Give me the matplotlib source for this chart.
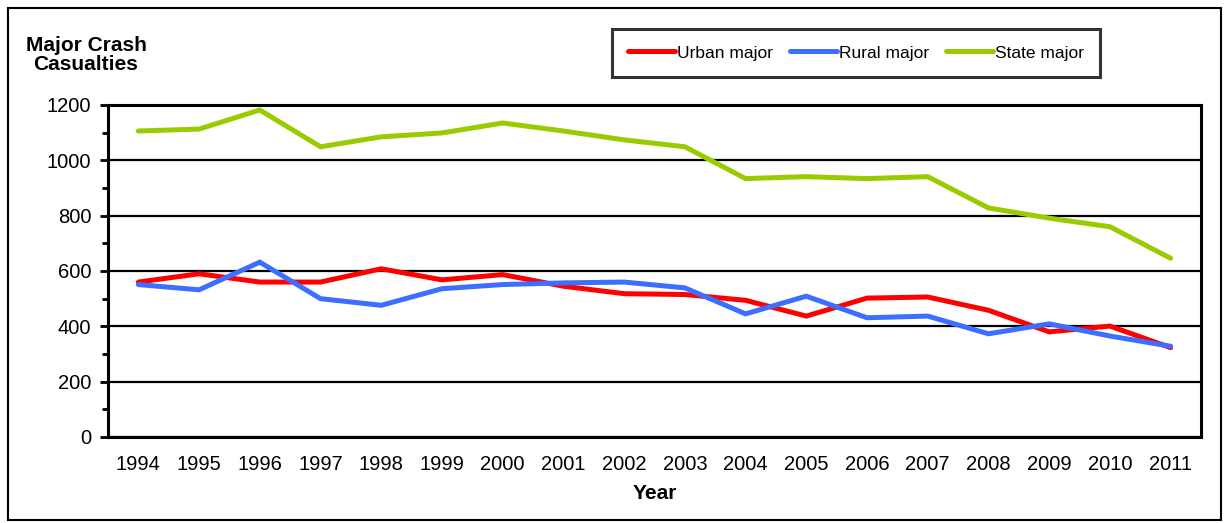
import matplotlib.pyplot as plt
from matplotlib.patches import Rectangle
from matplotlib.ticker import MultipleLocator

# --- data -------------------------------------------------------------------
years = [str(y) for y in range(1994, 2012)]
urban_major = [560, 590, 560, 560, 608, 568, 587, 545, 518, 515,
               494, 437, 502, 506, 458, 380, 401, 323]
rural_major = [551, 532, 632, 500, 476, 536, 551, 557, 560, 539,
               445, 509, 431, 437, 373, 409, 365, 328]
state_major = [1106, 1113, 1182, 1049, 1085, 1099, 1135, 1106, 1074, 1049,
               934, 941, 934, 941, 828, 791, 760, 646]

series = [
    ("Urban major", urban_major, "#FF0000"),
    ("Rural major", rural_major, "#3C6EFF"),
    ("State major", state_major, "#99CC00"),
]

plt.rcParams["font.family"] = ["Liberation Sans", "DejaVu Sans"]

fig = plt.figure(figsize=(12.24, 5.23), dpi=100)
ax = fig.add_axes([108 / 1224, 1 - 437 / 523, (1201 - 108) / 1224, (437 - 105) / 523])

x = list(range(len(years)))
for label, vals, color in series:
    ax.plot(x, vals, color=color, linewidth=3.6, label=label,
            solid_capstyle="round", solid_joinstyle="miter", zorder=3)

ax.set_xlim(-0.5, len(years) - 0.5)
ax.set_ylim(0, 1200)
ax.set_xticks(x)
ax.set_xticklabels(years)
ax.yaxis.set_major_locator(MultipleLocator(200))
ax.yaxis.set_minor_locator(MultipleLocator(100))
ax.grid(axis="y", which="major", color="black", linewidth=1.6, zorder=1)
ax.set_axisbelow(True)

for side in ax.spines.values():
    side.set_linewidth(2.2)
    side.set_color("black")

ax.tick_params(axis="x", length=0, pad=13, labelsize=14.5)
ax.tick_params(axis="y", which="major", direction="out", length=6, width=2,
               pad=6, labelsize=14.5)
ax.tick_params(axis="y", which="minor", direction="out", length=4, width=2)

ax.set_xlabel("Year", fontsize=15, fontweight="bold", labelpad=7)
fig.text(86 / 1224, 1 - 55 / 523, "Major Crash\nCasualties", ha="center",
         va="center", fontsize=15, fontweight="bold", linespacing=1.05)

leg = fig.legend(loc="center", bbox_to_anchor=(856 / 1224, 1 - 53 / 523),
                 ncol=3, fontsize=12.5, handlelength=2.7, handletextpad=0.1,
                 columnspacing=1.0, frameon=True, fancybox=False,
                 borderpad=0.92)
leg.get_frame().set_edgecolor("black")
leg.get_frame().set_linewidth(2.2)

# outer chart border
fig.patches.append(Rectangle((8 / 1224, 3 / 523), 1213 / 1224, 512 / 523,
                             transform=fig.transFigure, fill=False,
                             edgecolor="black", linewidth=1.5))

fig.savefig("out.png", dpi=100)
